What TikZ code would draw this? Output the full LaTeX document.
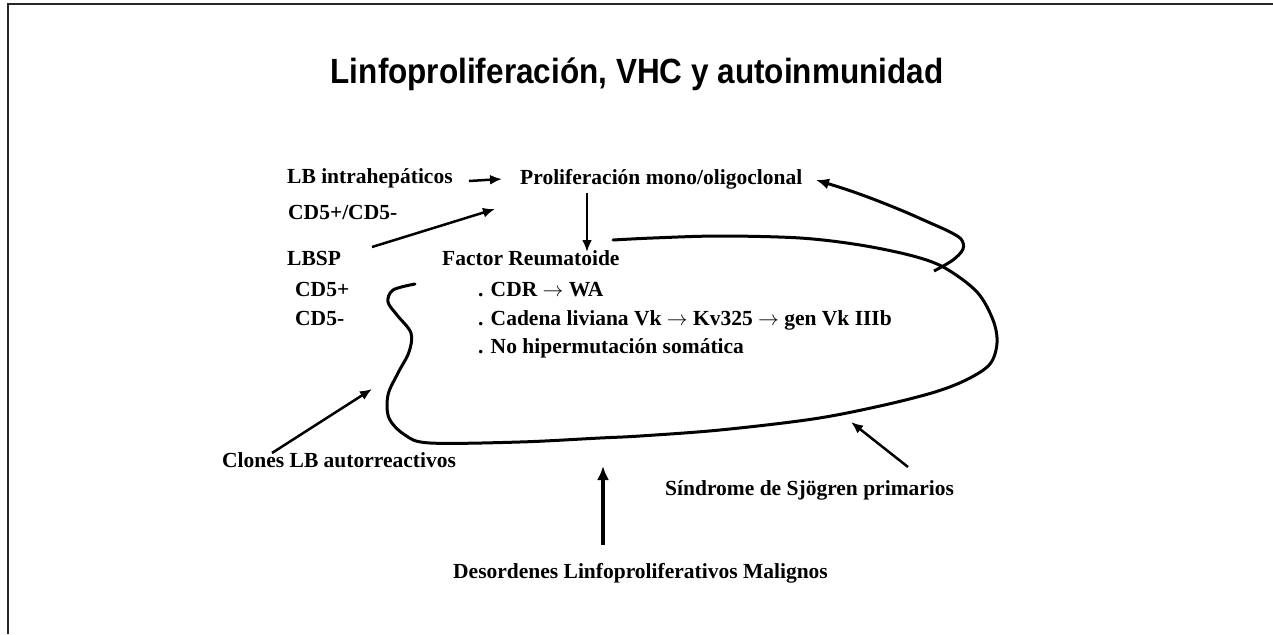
\documentclass[tikz,border=0pt]{standalone}
\usepackage{fontspec}
\setmainfont{Liberation Serif}
\setsansfont{Liberation Sans}
\usetikzlibrary{arrows.meta,calc}
\begin{document}
\begin{tikzpicture}[x=1pt,y=-1pt,
  lbl/.style={font=\fontsize{21.5}{24}\selectfont\bfseries, inner sep=0pt, anchor=base west},
  arr/.style={line width=2.5pt, -{Latex[length=12pt,width=10pt]}},
  bigarr/.style={line width=4pt, -{Latex[length=14pt,width=12pt]}},
  curve/.style={line width=3pt, line join=round, line cap=round}]
\useasboundingbox (0,0) rectangle (1273,634);
\fill[white] (0,0) rectangle (1273,634);
\draw[line width=1.5pt, black!85] (8,634) -- (8,4) -- (1273,4);

\node[font=\sffamily\bfseries\fontsize{35}{40}\selectfont, inner sep=0pt, anchor=base] (title) at (637,83) {\scalebox{0.9}[1]{Linfoproliferación, VHC y autoinmunidad}};

\node[lbl] (lbi) at (287,183) {LB intrahepáticos};
\node[lbl] (cd55) at (288,219) {CD5+/CD5-};
\node[lbl] (prol) at (520,184) {Proliferación mono/oligoclonal};
\node[lbl] (lbsp) at (287,265) {LBSP};
\node[lbl] (fr) at (442,265) {Factor Reumatoide};
\node[lbl] (cdp) at (295,296) {CD5+};
\node[lbl] (cdm) at (295,325) {CD5-};
\node[lbl] (cdr) at (478,296) {. CDR $\rightarrow$ WA};
\node[lbl] (cad) at (478,325) {. Cadena liviana Vk $\rightarrow$ Kv325 $\rightarrow$ gen Vk IIIb};
\node[lbl] (nohi) at (478,353) {. No hipermutación somática};
\node[lbl] (clon) at (222,467) {Clones LB autorreactivos};
\node[lbl] (sjo) at (665,495) {Síndrome de Sjögren primarios};
\node[lbl] (des) at (453,578) {Desordenes Linfoproliferativos Malignos};

% connector end points
\coordinate (a1s) at (469,181);
\coordinate (a1e) at (502,179);
\coordinate (a2s) at (372,247);
\coordinate (a2e) at (495,209);
\coordinate (a3s) at (587,193);
\coordinate (a3e) at (587,252);
\coordinate (a5s) at (272,453);
\coordinate (a5e) at (372,389);
\coordinate (a6s) at (908,467);
\coordinate (a6e) at (851,422);
\coordinate (a7s) at (603,545);
\coordinate (a7e) at (603,466);
\coordinate (loopend) at (816,180);

\draw[arr] (a1s) -- (a1e);
\draw[arr] (a2s) -- (a2e);
\draw[arr] (a3s) -- (a3e);
\draw[arr] (a5s) -- (a5e);
\draw[arr] (a6s) -- (a6e);
\draw[bigarr] (a7s) -- (a7e);

% main curve
\draw[curve] plot[smooth, tension=0.55] coordinates {
 (415,284) (393,290) (388,302) (397,315) (411,333) (409,352) (398,373)
 (388,395) (389,418) (405,435) (430,443) (520,442) (600,438) (640,436)
 (720,430) (813,419) (880,406) (935,392) (968,379) (990,364) (997,343)
 (993,320) (977,292) (945,268) (913,256) (860,245) (800,238) (720,236)
 (653,238) (613,240)};

% loop towards proliferation
\draw[curve, line cap=butt, -{Latex[length=13pt,width=11pt]}] plot[smooth, tension=0.55] coordinates {
 (934,271) (953,260) (963,249) (961,239) (948,231) (928,222) (903,211)
 (873,199) (845,189) (loopend)};
\end{tikzpicture}
\end{document}
